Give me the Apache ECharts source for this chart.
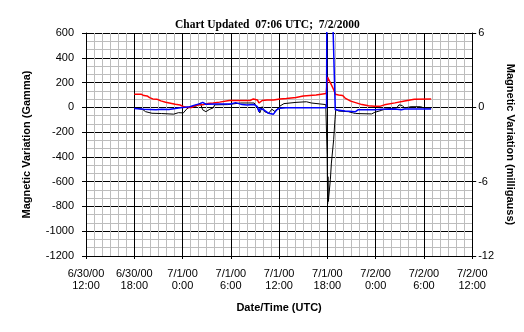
<!DOCTYPE html>
<html>
<head>
<meta charset="utf-8">
<script src="https://cdn.jsdelivr.net/npm/echarts@6/dist/echarts.min.js"></script>
<style>
  html, body { margin: 0; padding: 0; background: #fff; }
  #chart { width: 524px; height: 332px; }
</style>
</head>
<body>
<div id="chart"></div>
<script>
// Time is in hours after 6/30/00 12:00 UTC.
const xTickLabels = [
  '6/30/00\n12:00', '6/30/00\n18:00', '7/1/00\n0:00', '7/1/00\n6:00',
  '7/1/00\n12:00', '7/1/00\n18:00', '7/2/00\n0:00', '7/2/00\n6:00', '7/2/00\n12:00'
];
const rightTickLabels = ['-12', '-6', '0', '6'];

// Red trace, gamma
const redSeries = [
  [6.0, 105], [6.9, 105], [7.2, 95], [7.6, 92], [7.9, 78], [8.3, 68], [8.8, 66],
  [9.3, 52], [9.9, 41], [10.5, 33], [11.1, 25], [11.7, 19], [12.1, 6], [12.5, -2],
  [13.1, -2], [13.6, 14], [14.2, 20], [14.5, 20], [15.1, 30], [15.8, 35], [16.6, 42],
  [17.8, 55], [18.8, 55], [20.4, 55], [20.8, 68], [21.0, 75], [21.3, 60], [21.5, 35],
  [21.9, 55], [22.5, 60], [23.3, 60], [24.1, 68], [24.9, 72], [26.1, 80], [27.0, 92],
  [28.6, 100], [29.85, 112], [30.03, 245], [30.15, 225], [30.4, 195], [30.6, 180],
  [30.8, 140], [31.0, 105], [31.4, 100], [31.9, 95], [32.2, 75], [32.9, 50], [33.5, 38],
  [34.3, 22], [35.1, 12], [35.9, 8], [36.5, 8], [37.1, 20], [38.4, 36], [39.6, 52],
  [40.8, 65], [42.9, 68]
];

// Black trace, gamma
const blackSeries = [
  [6.0, -5], [7.0, -15], [7.4, -35], [8.2, -48], [9.4, -50], [10.9, -55], [11.5, -43],
  [12.1, -45], [12.5, -15], [12.9, 5], [13.7, 10], [14.2, 35], [14.5, -20], [14.9, -35],
  [15.4, -15], [15.8, -5], [16.0, 20], [17.6, 22], [19.2, 35], [20.9, 35], [21.3, -5],
  [21.6, -45], [21.9, 5], [22.2, -35], [22.7, -48], [23.1, -15], [23.5, -35], [24.1, 10],
  [24.6, 30], [26.1, 40], [27.4, 45], [28.0, 35], [29.0, 28], [29.8, 22],
  [29.97, -380], [30.03, -780], [30.07, -560], [30.12, -760], [30.37, -585],
  [30.5, -450], [30.78, -262], [30.94, -100], [31.05, -15], [31.4, -30], [32.6, -35],
  [33.5, -50], [35.5, -53], [35.9, -40], [36.7, -25], [37.1, -15], [38.6, -5],
  [38.9, 20], [39.3, 15], [39.6, -5], [40.4, 5], [41.6, 5], [42.0, -5], [42.9, -7]
];

// Blue trace, milligauss
const blueSeries = [
  [6.0, -0.1], [7.2, -0.15], [8.7, -0.2], [9.4, -0.15], [10.3, -0.18], [11.5, -0.05],
  [12.3, 0], [12.9, 0.05], [13.6, 0.2], [14.2, 0.3], [14.5, 0.4], [14.9, 0.25],
  [16.4, 0.27], [18.0, 0.27], [18.6, 0.38], [19.4, 0.22], [20.0, 0.18], [20.9, 0.22],
  [21.3, 0.05], [21.5, -0.35], [21.6, -0.1], [22.1, -0.2], [22.7, -0.48], [23.3, -0.55],
  [23.7, -0.2], [24.1, -0.07], [24.9, -0.04], [29.9, -0.04], [29.93, 6.5], [30.7, 6.5],
  [30.98, -0.2], [32.2, -0.3], [33.5, -0.35], [33.8, -0.2], [35.9, -0.2], [36.8, -0.15],
  [38.4, -0.13], [39.2, -0.2], [39.6, -0.13], [42.9, -0.13]
];

const labelFont = { fontFamily: 'Liberation Sans', fontSize: 11, color: '#000' };
const nameFont = { fontFamily: 'Liberation Sans', fontSize: 11, fontWeight: 'bold', color: '#000' };

const chart = echarts.init(document.getElementById('chart'), null, { renderer: 'canvas' });
chart.setOption({
  backgroundColor: '#fff',
  animation: false,
  title: {
    text: 'Chart Updated  07:06 UTC;  7/2/2000',
    left: 175,
    top: 18,
    padding: [1, 0, 1, 0],
    backgroundColor: '#fff',
    textStyle: { fontFamily: 'Liberation Serif', fontSize: 11.5, fontWeight: 'bold', color: '#000' }
  },
  grid: { left: 86, top: 33, width: 393, height: 223, containLabel: false },
  xAxis: {
    type: 'value',
    min: 0, max: 48, interval: 6,
    name: 'Date/Time (UTC)',
    nameLocation: 'middle',
    nameGap: 46,
    nameTextStyle: nameFont,
    axisLine: { show: true, onZero: false, lineStyle: { color: '#000', width: 1 } },
    axisTick: { show: true, length: 3, lineStyle: { color: '#000' } },
    axisLabel: Object.assign({ margin: 12, lineHeight: 12,
      formatter: v => xTickLabels[Math.round(v / 6)] }, labelFont),
    splitLine: { show: true, lineStyle: { color: '#000', width: 1 } },
    minorTick: { show: false, splitNumber: 6 },
    minorSplitLine: { show: true, lineStyle: { color: '#bdbdbd', width: 1 } }
  },
  yAxis: [
    {
      type: 'value',
      min: -1200, max: 600, interval: 200,
      name: 'Magnetic Variation (Gamma)',
      nameLocation: 'middle',
      nameGap: 54,
      nameRotate: 90,
      nameTextStyle: nameFont,
      axisLine: { show: true, lineStyle: { color: '#000', width: 1 } },
      axisTick: { show: true, length: 4, lineStyle: { color: '#000' } },
      axisLabel: Object.assign({ margin: 12, formatter: v => String(v) }, labelFont),
      splitLine: { show: true, lineStyle: { color: '#000', width: 1 } },
      minorTick: { show: false, splitNumber: 3 },
      minorSplitLine: { show: true, lineStyle: { color: '#bdbdbd', width: 1 } }
    },
    {
      type: 'value',
      position: 'right',
      min: -12, max: 6, interval: 6,
      name: 'Magnetic Variation (milligauss)',
      nameLocation: 'middle',
      nameGap: 23,
      nameRotate: -90,
      nameTextStyle: nameFont,
      axisLine: { show: true, lineStyle: { color: '#000', width: 1 } },
      axisTick: { show: true, length: 4, lineStyle: { color: '#000' } },
      axisLabel: Object.assign({ margin: 6,
        formatter: v => rightTickLabels[Math.round((v + 12) / 6)] }, labelFont),
      splitLine: { show: false }
    }
  ],
  series: [
    {
      type: 'line', name: 'black', yAxisIndex: 0, data: blackSeries,
      showSymbol: false, lineStyle: { color: '#000', width: 1 }, z: 3
    },
    {
      type: 'line', name: 'red', yAxisIndex: 0, data: redSeries,
      showSymbol: false, lineStyle: { color: '#ff0000', width: 1.5 }, z: 4
    },
    {
      type: 'line', name: 'blue', yAxisIndex: 1, data: blueSeries, clip: false,
      showSymbol: false, lineStyle: { color: '#0000ff', width: 1.5 }, z: 5
    }
  ]
});
</script>
</body>
</html>
